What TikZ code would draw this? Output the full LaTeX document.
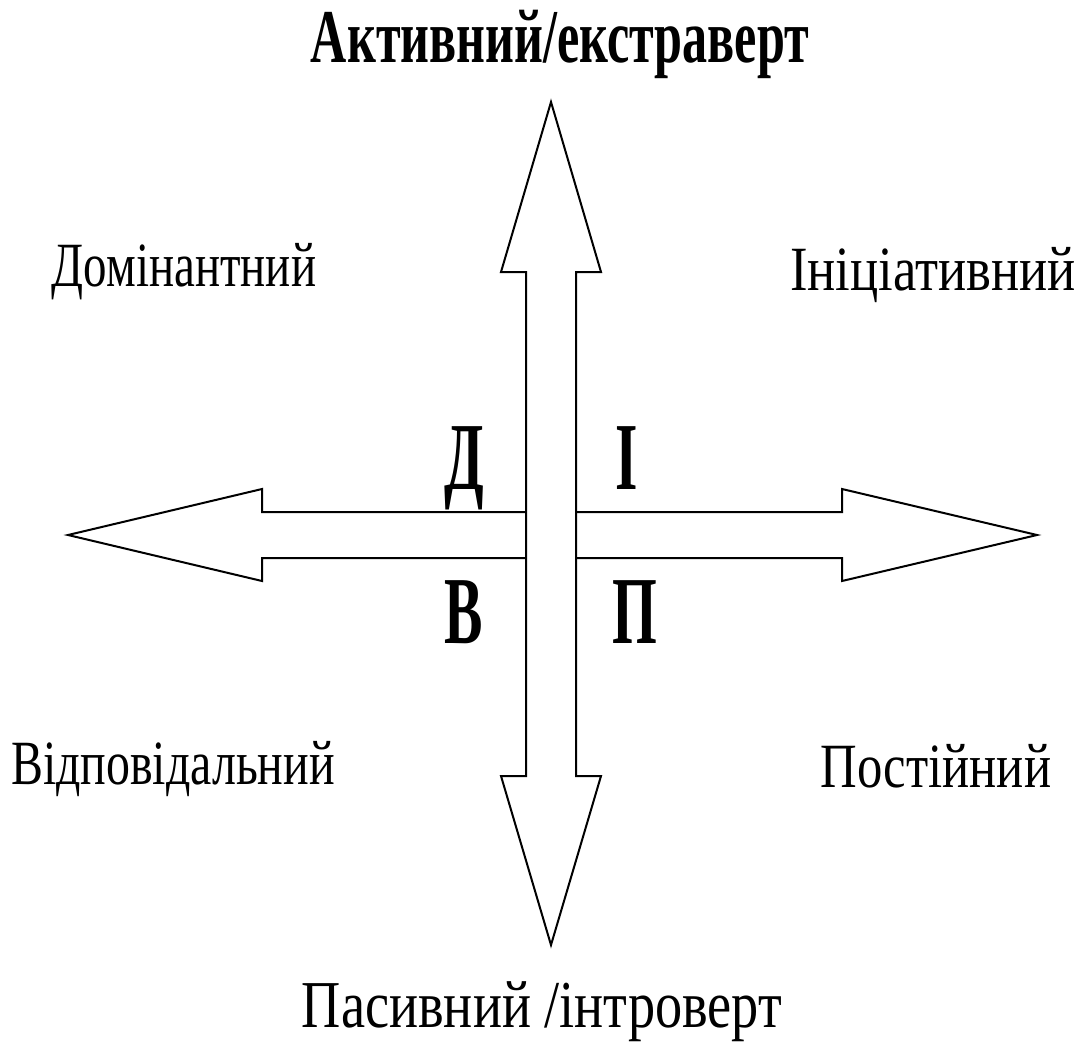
\documentclass[tikz,border=0pt]{standalone}
\usepackage{fontspec}
\setmainfont{Liberation Serif}
\newfontfamily\axisfont{Liberation Serif}[FakeStretch=0.81]
\newfontfamily\titlefont{Liberation Serif}[FakeStretch=0.66]
\newfontfamily\letterfont{Liberation Serif}[FakeStretch=0.6]
\newcommand\stretchedfont[1]{\fontspec{Liberation Serif}[FakeStretch=#1]}
\usetikzlibrary{positioning}
\tikzset{
  x=1pt, y=-1pt, % one unit is one pixel, y runs down the page
  every node/.style={inner sep=0pt, anchor=base}, % texts sit on their
  % baseline
  arrowbody/.style={draw, fill=white, line width=2pt, line join=miter},
}

\begin{document}
\begin{tikzpicture}[quality/.style = {font=\stretchedfont{#1}\fontsize{63}{70}\selectfont},
    quality/.default = 0.76,
    axis/.style = {font=\axisfont\fontsize{67}{72}\selectfont},
    letter/.style = {font=\letterfont\bfseries\fontsize{96}{100}\selectfont}]
    \useasboundingbox (0,0) rectangle (1081,1041);

    % horizontal arrow first, the vertical one covers its shaft
    \draw[arrowbody] (68,535) -- (262,489) -- (262,512) -- (842,512)
    -- (842,489) -- (1037,535) -- (842,581) -- (842,558) -- (262,558)
    -- (262,581) -- cycle;
    \draw[arrowbody] (551,102) -- (601,272) -- (576,272) -- (576,776)
    -- (601,776) -- (551,945) -- (501,776) -- (526,776) -- (526,272)
    -- (501,272) -- cycle;

    \node[font=\titlefont\bfseries\fontsize{76}{80}\selectfont] (active) at (560,63) {Активний/екстраверт};
    \node[axis] (passive) at (542,1027) {Пасивний /інтроверт};

    \node[quality=0.745] (dominant) at (184,286) {Домінантний};
    \node[quality=0.835] (initiative) at (933,290) {Ініціативний};
    \node[quality=0.76] (responsible) at (173,784) {Відповідальний};
    \node[quality=0.805] (constant) at (936,787) {Постійний};

    \node[letter] (d) at (464,489) {Д};
    \node[letter] (i) at (627,489) {І};
    \node[letter] (v) at (464,643) {В};
    \node[letter] (p) at (635,643) {П};
  \end{tikzpicture}
\end{document}
